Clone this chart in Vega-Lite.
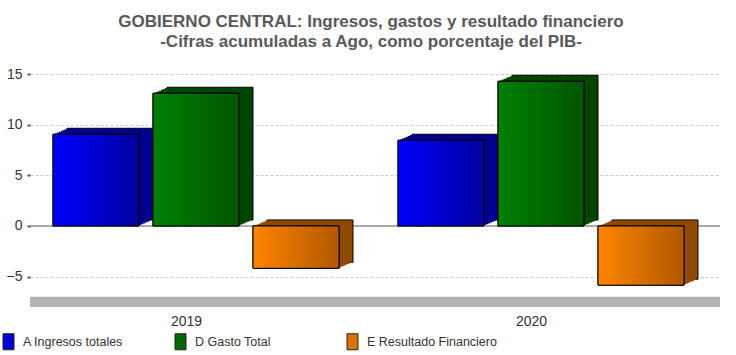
{
  "$schema": "https://vega.github.io/schema/vega-lite/v6.json",
  "width": 690,
  "height": 233,
  "autosize": {"type": "none"},
  "padding": {"left": 30, "top": 74, "right": 16, "bottom": 48},
  "background": "white",
  "config": {
    "view": {"stroke": null},
    "font": "Liberation Sans",
    "axisY": {
      "values": [-5, 0, 5, 10, 15],
      "title": null,
      "grid": true,
      "gridDash": [3, 2],
      "gridColor": "#c8c8c8",
      "domain": false,
      "tickSize": 3,
      "tickWidth": 2,
      "tickColor": "#555555",
      "labelFontSize": 14,
      "labelColor": "#333333",
      "labelFont": "Liberation Sans",
      "labelPadding": 5
    },
    "axisX": {
      "title": null,
      "ticks": false,
      "domain": false,
      "grid": false,
      "labelAngle": 0,
      "labelPadding": 7,
      "labelOffset": -16,
      "labelFontSize": 14,
      "labelColor": "#333333",
      "labelFont": "Liberation Sans"
    }
  },
  "title": {
    "text": ["GOBIERNO CENTRAL: Ingresos, gastos y resultado financiero", "-Cifras acumuladas a Ago, como porcentaje del PIB-"],
    "font": "Liberation Sans",
    "fontSize": 17,
    "fontWeight": "bold",
    "color": "#595959",
    "anchor": "middle",
    "lineHeight": 20,
    "offset": 16,
    "dx": -4
  },
  "data": {
    "values": [
      {"year": "2019", "serie": "A Ingresos totales", "valor": 9.05},
      {"year": "2019", "serie": "D Gasto Total", "valor": 13.1},
      {"year": "2019", "serie": "E Resultado Financiero", "valor": -4.18},
      {"year": "2020", "serie": "A Ingresos totales", "valor": 8.46},
      {"year": "2020", "serie": "D Gasto Total", "valor": 14.28},
      {"year": "2020", "serie": "E Resultado Financiero", "valor": -5.85}
    ]
  },
  "resolve": {"scale": {"xOffset": "independent"}},
  "layer": [
    {
      "data": {"values": [{}]},
      "mark": {"type": "rect", "color": "#b3b3b3"},
      "encoding": {
        "y": {"datum": -8, "type": "quantitative", "scale": {"domain": [-8, 15], "nice": false, "zero": false}},
        "y2": {"datum": -7}
      }
    },
    {
      "data": {"values": [{}]},
      "mark": {"type": "rule", "color": "#666666", "strokeWidth": 1},
      "encoding": {
        "y": {"datum": 0, "type": "quantitative"}
      }
    },
    {
      "mark": {"type": "bar", "stroke": "#000000", "strokeWidth": 1, "yOffset": -6, "y2Offset": -6},
      "encoding": {
        "x": {"field": "year", "type": "nominal", "scale": {"paddingInner": 0, "paddingOuter": 0}},
        "xOffset": {"field": "serie", "type": "nominal", "scale": {"domain": ["A Ingresos totales", "D Gasto Total", "E Resultado Financiero"], "paddingInner": 0.14, "paddingOuter": 0.295, "align": 0.6271}},
        "y": {"field": "valor", "type": "quantitative", "title": null},
        "fill": {"field": "serie", "type": "nominal", "legend": null, "scale": {"domain": ["E Resultado Financiero", "D Gasto Total", "A Ingresos totales"], "range": ["#8f4a00", "#004600", "#000090"]}}
      }
    },
    {
      "mark": {"type": "bar", "strokeWidth": 0, "yOffset": -5.143, "y2Offset": -5.143},
      "encoding": {
        "x": {"field": "year", "type": "nominal"},
        "xOffset": {"field": "serie", "type": "nominal", "scale": {"domain": ["A Ingresos totales", "D Gasto Total", "E Resultado Financiero"], "paddingInner": 0.14, "paddingOuter": 0.295, "align": 0.5932}},
        "y": {"field": "valor", "type": "quantitative"},
        "fill": {"field": "serie", "type": "nominal", "legend": null}
      }
    },
    {
      "mark": {"type": "bar", "strokeWidth": 0, "yOffset": -4.286, "y2Offset": -4.286},
      "encoding": {
        "x": {"field": "year", "type": "nominal"},
        "xOffset": {"field": "serie", "type": "nominal", "scale": {"domain": ["A Ingresos totales", "D Gasto Total", "E Resultado Financiero"], "paddingInner": 0.14, "paddingOuter": 0.295, "align": 0.5593}},
        "y": {"field": "valor", "type": "quantitative"},
        "fill": {"field": "serie", "type": "nominal", "legend": null}
      }
    },
    {
      "mark": {"type": "bar", "strokeWidth": 0, "yOffset": -3.429, "y2Offset": -3.429},
      "encoding": {
        "x": {"field": "year", "type": "nominal"},
        "xOffset": {"field": "serie", "type": "nominal", "scale": {"domain": ["A Ingresos totales", "D Gasto Total", "E Resultado Financiero"], "paddingInner": 0.14, "paddingOuter": 0.295, "align": 0.5254}},
        "y": {"field": "valor", "type": "quantitative"},
        "fill": {"field": "serie", "type": "nominal", "legend": null}
      }
    },
    {
      "mark": {"type": "bar", "strokeWidth": 0, "yOffset": -2.571, "y2Offset": -2.571},
      "encoding": {
        "x": {"field": "year", "type": "nominal"},
        "xOffset": {"field": "serie", "type": "nominal", "scale": {"domain": ["A Ingresos totales", "D Gasto Total", "E Resultado Financiero"], "paddingInner": 0.14, "paddingOuter": 0.295, "align": 0.4915}},
        "y": {"field": "valor", "type": "quantitative"},
        "fill": {"field": "serie", "type": "nominal", "legend": null}
      }
    },
    {
      "mark": {"type": "bar", "strokeWidth": 0, "yOffset": -1.714, "y2Offset": -1.714},
      "encoding": {
        "x": {"field": "year", "type": "nominal"},
        "xOffset": {"field": "serie", "type": "nominal", "scale": {"domain": ["A Ingresos totales", "D Gasto Total", "E Resultado Financiero"], "paddingInner": 0.14, "paddingOuter": 0.295, "align": 0.4576}},
        "y": {"field": "valor", "type": "quantitative"},
        "fill": {"field": "serie", "type": "nominal", "legend": null}
      }
    },
    {
      "mark": {"type": "bar", "strokeWidth": 0, "yOffset": -0.857, "y2Offset": -0.857},
      "encoding": {
        "x": {"field": "year", "type": "nominal"},
        "xOffset": {"field": "serie", "type": "nominal", "scale": {"domain": ["A Ingresos totales", "D Gasto Total", "E Resultado Financiero"], "paddingInner": 0.14, "paddingOuter": 0.295, "align": 0.4237}},
        "y": {"field": "valor", "type": "quantitative"},
        "fill": {"field": "serie", "type": "nominal", "legend": null}
      }
    },
    {
      "mark": {"type": "bar", "stroke": "#000000", "strokeWidth": 1},
      "encoding": {
        "x": {"field": "year", "type": "nominal"},
        "xOffset": {"field": "serie", "type": "nominal", "scale": {"domain": ["A Ingresos totales", "D Gasto Total", "E Resultado Financiero"], "paddingInner": 0.14, "paddingOuter": 0.295, "align": 0.39}},
        "y": {"field": "valor", "type": "quantitative"},
        "color": {
          "field": "serie",
          "type": "nominal",
          "scale": {"domain": ["A Ingresos totales", "D Gasto Total", "E Resultado Financiero"], "range": ["#0000d8", "#006a00", "#dc7000"]},
          "legend": {
            "title": null,
            "orient": "none",
            "legendX": -30,
            "legendY": 259,
            "direction": "horizontal",
            "columns": 3,
            "gridAlign": "all",
            "columnPadding": 19,
            "padding": 0,
            "symbolType": "M-0.6875,-1L0.6875,-1L0.6875,1L-0.6875,1Z",
            "symbolSize": 256,
            "symbolStrokeColor": "#222222",
            "symbolStrokeWidth": 1,
            "labelOffset": 6,
            "labelFontSize": 12.5,
            "labelColor": "#333333",
            "labelFont": "Liberation Sans"
          }
        }
      }
    },
    {
      "transform": [{"filter": "datum.serie === 'A Ingresos totales'"}],
      "mark": {"type": "bar", "stroke": "#000000", "strokeWidth": 1, "fill": {"gradient": "linear", "x1": 0, "y1": 0, "x2": 1, "y2": 0, "stops": [{"offset": 0, "color": "#0000ff"}, {"offset": 1, "color": "#0000a0"}]}},
      "encoding": {
        "x": {"field": "year", "type": "nominal"},
        "xOffset": {"field": "serie", "type": "nominal", "scale": {"domain": ["A Ingresos totales", "D Gasto Total", "E Resultado Financiero"], "paddingInner": 0.14, "paddingOuter": 0.295, "align": 0.39}},
        "y": {"field": "valor", "type": "quantitative"}
      }
    },
    {
      "transform": [{"filter": "datum.serie === 'D Gasto Total'"}],
      "mark": {"type": "bar", "stroke": "#000000", "strokeWidth": 1, "fill": {"gradient": "linear", "x1": 0, "y1": 0, "x2": 1, "y2": 0, "stops": [{"offset": 0, "color": "#008000"}, {"offset": 1, "color": "#005600"}]}},
      "encoding": {
        "x": {"field": "year", "type": "nominal"},
        "xOffset": {"field": "serie", "type": "nominal", "scale": {"domain": ["A Ingresos totales", "D Gasto Total", "E Resultado Financiero"], "paddingInner": 0.14, "paddingOuter": 0.295, "align": 0.39}},
        "y": {"field": "valor", "type": "quantitative"}
      }
    },
    {
      "transform": [{"filter": "datum.serie === 'E Resultado Financiero'"}],
      "mark": {"type": "bar", "stroke": "#000000", "strokeWidth": 1, "fill": {"gradient": "linear", "x1": 0, "y1": 0, "x2": 1, "y2": 0, "stops": [{"offset": 0, "color": "#ff8400"}, {"offset": 1, "color": "#b05800"}]}},
      "encoding": {
        "x": {"field": "year", "type": "nominal"},
        "xOffset": {"field": "serie", "type": "nominal", "scale": {"domain": ["A Ingresos totales", "D Gasto Total", "E Resultado Financiero"], "paddingInner": 0.14, "paddingOuter": 0.295, "align": 0.39}},
        "y": {"field": "valor", "type": "quantitative"}
      }
    }
  ]
}
